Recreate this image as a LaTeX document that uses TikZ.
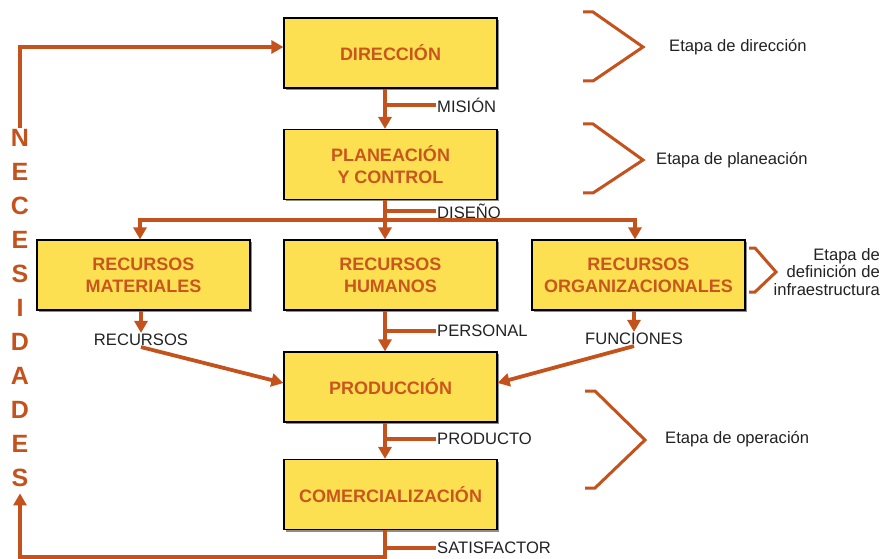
\documentclass[tikz,border=0pt]{standalone}
\usepackage{fontspec}
\setmainfont{Liberation Sans}
\usetikzlibrary{arrows.meta,shadows}
\definecolor{arrowc}{HTML}{C4521C}
\definecolor{boxfill}{HTML}{FDE052}
\definecolor{boxtext}{HTML}{C9561E}
\definecolor{labeltext}{HTML}{222222}
\begin{document}
\begin{tikzpicture}[x=1pt, y=-1pt,
  box/.style={draw=black, line width=1.2pt, fill=boxfill, minimum width=213pt, minimum height=70pt,
    align=center, text=boxtext, font=\fontsize{18}{22}\selectfont\bfseries,
    drop shadow={shadow xshift=2pt, shadow yshift=-2pt, opacity=0.45, fill=black}},
  flow/.style={draw=arrowc, line width=3.8pt, -{Triangle[length=12pt, width=13pt]}},
  tickline/.style={draw=arrowc, line width=3.8pt},
  brace/.style={draw=arrowc, line width=3pt},
  lbl/.style={text=labeltext, font=\fontsize{16.6}{18}\selectfont, inner sep=1pt},
  stage/.style={text=labeltext, font=\fontsize{16.6}{17.5}\selectfont, inner sep=0pt}]
\useasboundingbox (0,0) rectangle (884,559);
% boxes
\node[box] (dir) at (390.5,53) {DIRECCIÓN};
\node[box] (plan) at (390.5,164.5) {PLANEACIÓN\\Y CONTROL};
\node[box] (rmat) at (143.5,275) {RECURSOS\\MATERIALES};
\node[box] (rhum) at (390.5,275) {RECURSOS\\HUMANOS};
\node[box] (rorg) at (638.5,275) {RECURSOS\\ORGANIZACIONALES};
\node[box] (prod) at (390.5,387) {PRODUCCIÓN};
\node[box] (com) at (390.5,494.5) {COMERCIALIZACIÓN};
% labels on the flow
\node[lbl, anchor=west] (mision) at (436,105) {MISIÓN};
\node[lbl, anchor=west] (diseno) at (436,211) {DISEÑO};
\node[lbl, anchor=west] (personal) at (436,331) {PERSONAL};
\node[lbl, anchor=west] (producto) at (436,439) {PRODUCTO};
\node[lbl, anchor=west] (satisf) at (436,548) {SATISFACTOR};
\node[lbl] (recursos) at (141,340) {RECURSOS};
\node[lbl] (funciones) at (634,339) {FUNCIONES};
\node[text=arrowc, align=center, inner sep=2pt,
  font=\fontsize{25}{34}\selectfont\bfseries] (nec) at (20,308.5) {N\\E\\C\\E\\S\\I\\D\\A\\D\\E\\S};
% flow
\coordinate (split) at (385,220);
\coordinate (back) at (20,557);
\draw[flow] ([xshift=-5.5pt]dir.south) -- ([xshift=-5.5pt]plan.north);
\draw[flow] ([xshift=-5.5pt]plan.south) -- ([xshift=-5.5pt]rhum.north);
\draw[flow] (split) -| ([xshift=-3.5pt]rmat.north);
\draw[flow] (split) -| ([xshift=-3.5pt]rorg.north);
\draw[flow] (rmat.south -| recursos) -- (recursos.north);
\draw[flow] (rorg.south -| funciones) -- (funciones.north);
\draw[flow] (recursos.south) -- ([yshift=4pt]prod.west);
\draw[flow] (funciones.south) -- ([yshift=4pt]prod.east);
\draw[flow] ([xshift=-5.5pt]rhum.south) -- ([xshift=-5.5pt]prod.north);
\draw[flow] ([xshift=-5.5pt]prod.south) -- ([xshift=-5.5pt]com.north);
\draw[flow] ([xshift=-5.5pt]com.south) |- (back) -- ([yshift=-4pt]nec.south);
\draw[flow] (nec.north) |- ([yshift=6pt]dir.west);
\draw[tickline] (mision.west) -- ++(-51,0);
\draw[tickline] (diseno.west) -- ++(-51,0);
\draw[tickline] (personal.west) -- ++(-51,0);
\draw[tickline] (producto.west) -- ++(-51,0);
\draw[tickline] (satisf.west) -- ++(-51,0);
% stages
\draw[brace] (583,12) -- (593,12) -- (643,47) -- (593,81) -- (583,81);
\draw[brace] (583,124) -- (593,124) -- (643,160) -- (593,193) -- (583,193);
\draw[brace] (749,248) -- (755,248) -- (776,272) -- (755,292) -- (749,292);
\draw[brace] (585,391) -- (595,391) -- (645,440) -- (595,488) -- (585,488);
\node[stage, anchor=west] (sdir) at (669,47) {Etapa de dirección};
\node[stage, anchor=west] (splan) at (656,160) {Etapa de planeación};
\node[stage, anchor=east, align=right] (sinfra) at (880,272) {Etapa de\\definición de\\infraestructura};
\node[stage, anchor=west] (soper) at (665,439) {Etapa de operación};
\end{tikzpicture}
\end{document}
